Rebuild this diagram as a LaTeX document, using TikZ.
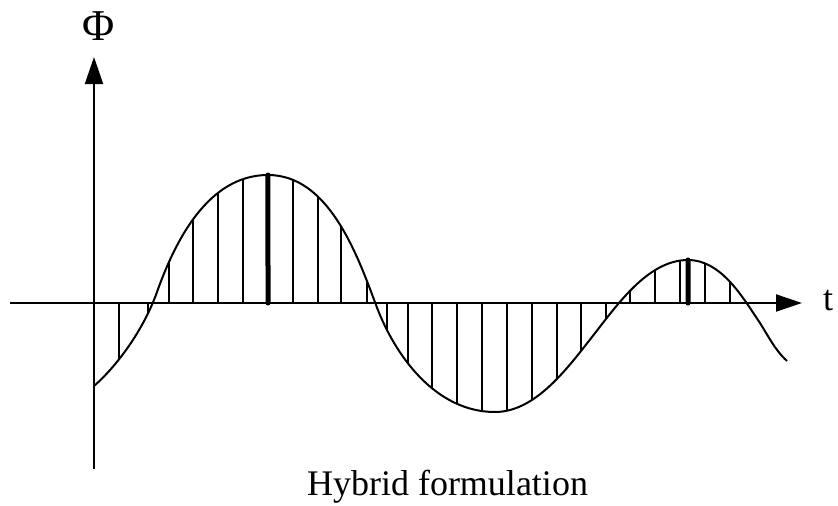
\documentclass[tikz,border=0pt]{standalone}
\usepackage{fontspec}
\setmainfont{Liberation Serif}
\usetikzlibrary{arrows.meta,intersections}
\begin{document}
\begin{tikzpicture}[x=1pt,y=-1pt,
  axisline/.style={line width=2pt},
  curveline/.style={line width=2pt},
  hatchline/.style={line width=1.8pt},
  boldline/.style={line width=5pt},
  lbl/.style={inner sep=0pt,font=\fontsize{36}{42}\selectfont}]
\useasboundingbox (0,0) rectangle (838,506);
% axes
\coordinate (xs) at (10,303);
\coordinate (xe) at (802,303);
\coordinate (ys) at (94,469);
\coordinate (ye) at (94,57);
\draw[axisline,-{Triangle[length=26pt,width=17pt]}] (xs) -- (xe);
\draw[axisline,-{Triangle[length=27pt,width=18pt]}] (ys) -- (ye);
\node[lbl,font=\fontsize{44}{48}\selectfont] (phi) at (99,26) {Φ};
\node[lbl] (t) at (828,301) {t};
\node[lbl,anchor=base] (cap) at (447.5,495) {Hybrid formulation};
% curve
\coordinate (c0) at (94,386);
\coordinate (c1) at (157,292);
\coordinate (c2) at (268,175);
\coordinate (c3) at (376,305);
\coordinate (c4) at (495,412);
\coordinate (c5) at (592,337);
\coordinate (c6) at (688,260);
\coordinate (c7) at (758,320);
\coordinate (c8) at (787,361);
\draw[curveline,name path=curve] (c0)
  .. controls (120.3,362.9) and (145.2,325.6) .. (c1)
  .. controls (175.1,241.1) and (208,175) .. (c2)
  .. controls (328,175) and (356.6,252.5) .. (c3)
  .. controls (394.4,354.7) and (435,412) .. (c4)
  .. controls (535,412) and (566.7,369.3) .. (c5)
  .. controls (617.3,304.7) and (648,260) .. (c6)
  .. controls (720,260) and (740.8,294.2) .. (c7)
  .. controls (767.4,334.1) and (774.4,349.6) .. (c8);
% hatch lines
\foreach \xx in {119,148,169,193,218,243,293,318,341,367,387,408,432,457,482,507,532,557,581,606,630,655,680,705,730} {
  \path[name path=vx] (\xx,0) -- (\xx,500);
  \path[name intersections={of=curve and vx,by=P}];
  \draw[hatchline] (\xx,303) -- (P);
}
\foreach \xx in {268,688} {
  \path[name path=vx] (\xx,0) -- (\xx,500);
  \path[name intersections={of=curve and vx,by=P}];
  \draw[boldline,line cap=round] (\xx,303) -- (P);
}
\end{tikzpicture}
\end{document}
